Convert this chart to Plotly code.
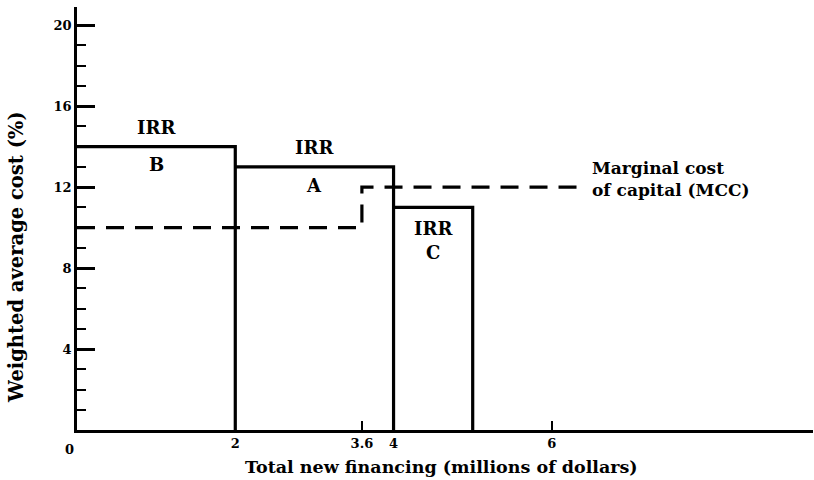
import plotly.graph_objects as go

# Data
projects = ["B", "A", "C"]
irr = [14, 13, 11]
proj_start = [0, 2, 4]
proj_end = [2, 4, 5]

mcc_x = [0, 3.6, 3.6, 6.4]
mcc_y = [10, 10, 12, 12]

x_tickvals = [2, 3.6, 4, 6]
x_ticktext = ["2", "3.6", "4", "6"]
y_tickvals = [4, 8, 12, 16, 20]
y_ticktext = ["4", "8", "12", "16", "20"]

FONT = "DejaVu Serif"


def f(size):
    return dict(family=FONT, size=size, color="black", weight="bold")


fig = go.Figure()

# IRR step boxes
for p, r, s, e in zip(projects, irr, proj_start, proj_end):
    fig.add_trace(go.Scatter(
        x=[s, e, e], y=[r, r, 0], mode="lines",
        line=dict(color="black", width=3.2), showlegend=False, hoverinfo="skip"))

# MCC dashed
fig.add_trace(go.Scatter(
    x=mcc_x, y=mcc_y, mode="lines",
    line=dict(color="black", width=3.2, dash="18px,11px"),
    showlegend=False, hoverinfo="skip"))

# Labels
for p, r, s, e in zip(projects, irr, proj_start, proj_end):
    cx = (s + e) / 2
    if p == "C":
        fig.add_annotation(x=cx, y=r - 1.05, text="IRR", showarrow=False, font=f(18))
        fig.add_annotation(x=cx, y=r - 2.25, text=p, showarrow=False, font=f(18))
    else:
        fig.add_annotation(x=cx, y=r + 0.95, text="IRR", showarrow=False, font=f(18))
        fig.add_annotation(x=cx, y=r - 0.9, text=p, showarrow=False, font=f(18))

fig.add_annotation(x=6.48, y=12.4, xanchor="left", yanchor="middle", align="left",
                   text="Marginal cost<br>of capital (MCC)", showarrow=False,
                   font=f(17))

# origin zero label
fig.add_annotation(x=0, y=0, text="0", showarrow=False, xanchor="center", yanchor="top",
                   xshift=-8, yshift=-10, font=f(13))

# axis titles
fig.add_annotation(xref="paper", yref="paper", x=(441 - 77) / 736, y=-0.088,
                   text="Total new financing (millions of dollars)", showarrow=False,
                   xanchor="center", yanchor="middle", font=f(17.5))
fig.add_annotation(xref="paper", yref="paper", x=-0.083, y=(430 - 257) / 423,
                   text="Weighted average cost (%)", showarrow=False, textangle=-90,
                   xanchor="center", yanchor="middle", font=f(19.5))

fig.update_xaxes(range=[0, 9.3], showgrid=False, zeroline=False,
                 showline=True, linecolor="black", linewidth=2.5,
                 tickmode="array", tickvals=x_tickvals, ticktext=x_ticktext,
                 ticks="inside", ticklen=9, tickwidth=2, tickcolor="black",
                 tickfont=f(13))
fig.update_yaxes(range=[0, 20.9], showgrid=False, zeroline=False,
                 showline=True, linecolor="black", linewidth=2.5,
                 tickmode="array", tickvals=y_tickvals, ticktext=y_ticktext,
                 ticks="inside", ticklen=18, tickwidth=2.5, tickcolor="black",
                 tickfont=f(13),
                 minor=dict(tickmode="linear", tick0=0, dtick=1, ticks="inside",
                            ticklen=9, tickwidth=2, tickcolor="black", showgrid=False))

fig.update_layout(width=814, height=480, margin=dict(l=77, r=1, t=7, b=50),
                  plot_bgcolor="white", paper_bgcolor="white", showlegend=False)

fig.write_html("out.html", config={"displayModeBar": False},
               post_script="document.body.style.margin='0';document.body.style.overflow='hidden';")
